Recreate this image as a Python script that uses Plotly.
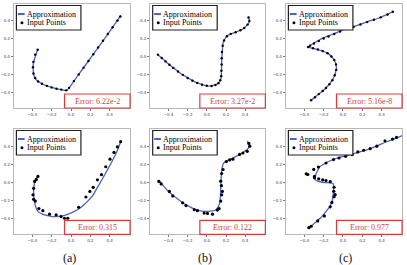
import plotly.graph_objects as go

# ---------------- data ----------------
panel_labels = ["(a)", "(b)", "(c)"]
error_texts = ["Error: 6.22e-2", "Error: 3.27e-2", "Error: 5.16e-8",
               "Error: 0.315", "Error: 0.122", "Error: 0.977"]
tick_vals = [-0.4, -0.2, 0.0, 0.2, 0.4]

# (a) top
a1_approx_x = [-0.342, -0.36, -0.38, -0.393, -0.39, -0.386, -0.37, -0.342, -0.30, -0.256, -0.20, -0.154,
               -0.10, -0.044, -0.02, 0.03, 0.12, 0.22, 0.325, 0.42, 0.513]
a1_approx_y = [0.081, 0.03, -0.04, -0.111, -0.16, -0.204, -0.245, -0.278, -0.305, -0.326, -0.345, -0.359,
               -0.37, -0.378, -0.35, -0.275, -0.14, 0.01, 0.165, 0.31, 0.456]
a1_pts_x = [-0.345, -0.37, -0.39, -0.393, -0.388, -0.37, -0.34, -0.30, -0.25, -0.20, -0.15, -0.10, -0.05,
            -0.02, 0.03, 0.08, 0.13, 0.18, 0.23, 0.28, 0.33, 0.38, 0.43, 0.48, 0.51]
a1_pts_y = [0.075, 0.02, -0.06, -0.12, -0.19, -0.24, -0.28, -0.305, -0.328, -0.345, -0.36, -0.37, -0.378,
            -0.35, -0.275, -0.2, -0.125, -0.05, 0.025, 0.10, 0.175, 0.25, 0.325, 0.40, 0.445]

# (b) top
b1_approx_x = [-0.51, -0.45, -0.39, -0.32, -0.252, -0.18, -0.114, -0.06, -0.01, 0.03, 0.059, 0.095, 0.121,
               0.14, 0.148, 0.152, 0.154, 0.155, 0.16, 0.169, 0.19, 0.214, 0.25, 0.3, 0.35, 0.386, 0.42,
               0.445, 0.44, 0.431]
b1_approx_y = [0.019, -0.035, -0.093, -0.15, -0.204, -0.25, -0.289, -0.31, -0.326, -0.33, -0.326, -0.315,
               -0.296, -0.27, -0.241, -0.18, -0.111, -0.04, 0.037, 0.148, 0.2, 0.23, 0.252, 0.27, 0.292,
               0.315, 0.35, 0.389, 0.42, 0.444]
b1_pts_x = [-0.51, -0.47, -0.43, -0.39, -0.35, -0.30, -0.25, -0.20, -0.15, -0.10, -0.05, 0.0, 0.05, 0.09,
            0.12, 0.14, 0.15, 0.152, 0.154, 0.155, 0.158, 0.165, 0.18, 0.21, 0.25, 0.30, 0.35, 0.39, 0.425,
            0.443, 0.435]
b1_pts_y = [0.02, -0.017, -0.055, -0.093, -0.128, -0.168, -0.205, -0.24, -0.27, -0.295, -0.315, -0.326,
            -0.33, -0.318, -0.298, -0.265, -0.22, -0.16, -0.09, -0.02, 0.05, 0.12, 0.178, 0.225, 0.252,
            0.27, 0.292, 0.318, 0.355, 0.395, 0.435]

# (c) top
c1_approx_x = [-0.329, -0.25, -0.176, -0.108, -0.08, -0.068, -0.075, -0.092, -0.12, -0.159, -0.22, -0.278,
               -0.33, -0.37, -0.35, -0.329, -0.27, -0.21, -0.12, -0.041, 0.06, 0.163, 0.26, 0.366, 0.44,
               0.519]
c1_approx_y = [-0.489, -0.42, -0.352, -0.259, -0.19, -0.13, -0.08, -0.037, 0.0, 0.037, 0.063, 0.081, 0.095,
               0.104, 0.115, 0.13, 0.168, 0.204, 0.242, 0.278, 0.315, 0.352, 0.39, 0.426, 0.46, 0.5]
c1_pts_x = [-0.33, -0.29, -0.25, -0.21, -0.176, -0.14, -0.11, -0.085, -0.07, -0.072, -0.09, -0.12, -0.16,
            -0.21, -0.26, -0.31, -0.36, -0.34, -0.30, -0.25, -0.20, -0.15, -0.09, -0.03, 0.04, 0.11, 0.18,
            0.25, 0.32, 0.39, 0.46, 0.515]
c1_pts_y = [-0.488, -0.455, -0.42, -0.385, -0.352, -0.31, -0.265, -0.21, -0.15, -0.09, -0.04, 0.0, 0.036,
            0.06, 0.077, 0.092, 0.104, 0.12, 0.145, 0.172, 0.2, 0.223, 0.25, 0.278, 0.305, 0.33, 0.357,
            0.383, 0.41, 0.436, 0.468, 0.498]

# (a) bottom
a2_approx_x = [-0.342, -0.37, -0.386, -0.385, -0.376, -0.36, -0.342, -0.31, -0.274, -0.23, -0.188, -0.14,
               -0.085, -0.03, 0.034, 0.09, 0.137, 0.18, 0.222, 0.27, 0.325, 0.38, 0.43, 0.475, 0.513]
a2_approx_y = [0.069, 0.02, -0.073, -0.15, -0.227, -0.285, -0.323, -0.347, -0.362, -0.374, -0.381, -0.38,
               -0.373, -0.355, -0.323, -0.288, -0.246, -0.2, -0.15, -0.06, 0.042, 0.15, 0.25, 0.35, 0.458]
a2_pts_x = [-0.342, -0.359, -0.376, -0.386, -0.393, -0.386, -0.369, -0.332, -0.291, -0.222, -0.154, -0.103,
            -0.068, -0.034, 0.079, 0.154, 0.195, 0.229, 0.273, 0.315, 0.359, 0.403, 0.444, 0.479, 0.513]
a2_pts_y = [0.069, 0.035, 0.012, -0.065, -0.138, -0.188, -0.208, -0.292, -0.315, -0.354, -0.362, -0.381,
            -0.4, -0.4, -0.277, -0.162, -0.1, -0.054, 0.031, 0.088, 0.177, 0.262, 0.338, 0.4, 0.458]

# (b) bottom
b2_approx_x = [-0.51, -0.5, -0.48, -0.45, -0.39, -0.32, -0.252, -0.18, -0.114, -0.05, 0.007, 0.06, 0.093,
               0.12, 0.134, 0.142, 0.145, 0.148, 0.155, 0.165, 0.179, 0.21, 0.248, 0.3, 0.369, 0.42, 0.445,
               0.435, 0.421]
b2_approx_y = [0.02, 0.025, 0.0, -0.04, -0.112, -0.17, -0.227, -0.27, -0.304, -0.32, -0.323, -0.318, -0.304,
               -0.27, -0.227, -0.15, -0.054, 0.03, 0.119, 0.19, 0.223, 0.245, 0.262, 0.29, 0.331, 0.37,
               0.408, 0.44, 0.465]
b2_pts_x = [-0.5, -0.476, -0.39, -0.355, -0.252, -0.217, -0.131, -0.097, -0.028, 0.007, 0.059, 0.11, 0.128,
            0.145, 0.155, 0.162, 0.152, 0.145, 0.155, 0.169, 0.203, 0.238, 0.272, 0.341, 0.376, 0.421,
            0.448, 0.438]
b2_pts_y = [0.012, -0.015, -0.1, -0.15, -0.227, -0.258, -0.304, -0.315, -0.342, -0.346, -0.354, -0.308,
            -0.292, -0.208, -0.138, -0.1, -0.035, 0.015, 0.1, 0.146, 0.235, 0.254, 0.262, 0.315, 0.331,
            0.35, 0.408, 0.438]

# (c) bottom
c2_approx_x = [-0.346, -0.29, -0.227, -0.18, -0.142, -0.12, -0.108, -0.1, -0.098, -0.1, -0.108, -0.14,
               -0.193, -0.23, -0.261, -0.285, -0.288, -0.278, -0.26, -0.244, -0.2, -0.159, -0.058, 0.03,
               0.112, 0.2, 0.281, 0.37, 0.451, 0.53, 0.62]
c2_approx_y = [-0.506, -0.45, -0.392, -0.33, -0.279, -0.235, -0.185, -0.11, -0.034, -0.015, -0.008, -0.003,
               0.0, 0.006, 0.015, 0.03, 0.042, 0.098, 0.14, 0.174, 0.205, 0.23, 0.275, 0.3, 0.325, 0.352,
               0.381, 0.42, 0.457, 0.49, 0.53]
c2_pts_x = [-0.353, -0.329, -0.261, -0.193, -0.132, -0.115, -0.092, -0.081, -0.095, -0.092, -0.132, -0.176,
            -0.21, -0.251, -0.295, -0.295, -0.38, -0.363, -0.302, -0.254, -0.176, -0.098, -0.041, 0.027,
            0.095, 0.153, 0.214, 0.281, 0.349, 0.434, 0.512, 0.553]
c2_pts_y = [-0.506, -0.49, -0.43, -0.374, -0.272, -0.223, -0.158, -0.136, -0.098, -0.053, 0.011, 0.023,
            0.03, 0.042, 0.053, 0.068, 0.098, 0.09, 0.147, 0.174, 0.219, 0.257, 0.275, 0.294, 0.313, 0.343,
            0.362, 0.38, 0.407, 0.468, 0.487, 0.506]

series = [
    (a1_approx_x, a1_approx_y, a1_pts_x, a1_pts_y),
    (b1_approx_x, b1_approx_y, b1_pts_x, b1_pts_y),
    (c1_approx_x, c1_approx_y, c1_pts_x, c1_pts_y),
    (a2_approx_x, a2_approx_y, a2_pts_x, a2_pts_y),
    (b2_approx_x, b2_approx_y, b2_pts_x, b2_pts_y),
    (c2_approx_x, c2_approx_y, c2_pts_x, c2_pts_y),
]

# ---------------- layout ----------------
W, H = 407, 265
col_px = [(11, 128), (148.3, 264.3), (285, 402)]
row_px = [(4, 108), (129, 234.3)]
x_range = [-0.59, 0.61]
y_ranges = [[-0.575, 0.585], [-0.58, 0.60]]

BLUE = "#4a62d0"
RED = "#dd3b3b"
SERIF = "Liberation Serif"

fig = go.Figure()
shapes = []
annotations = []
layout_axes = {}

for i, (ax_x, ax_y, px_x, px_y) in enumerate(series):
    r, c = divmod(i, 3)
    n = "" if i == 0 else str(i + 1)
    xa, ya = "x" + n, "y" + n
    x0, x1 = col_px[c]
    y0, y1 = row_px[r]
    pw, ph = x1 - x0, y1 - y0
    msize = 2.4 if r == 0 else 3.2

    fig.add_trace(go.Scatter(x=ax_x, y=ax_y, mode="lines", xaxis=xa, yaxis=ya,
                             line=dict(color=BLUE, width=1.3, shape="spline", smoothing=0.5),
                             showlegend=False, cliponaxis=True))
    fig.add_trace(go.Scatter(x=px_x, y=px_y, mode="markers", xaxis=xa, yaxis=ya,
                             marker=dict(color="black", size=msize, line=dict(width=0)),
                             showlegend=False))

    axis_common = dict(showline=True, mirror=True, linecolor="#b8b8b8", linewidth=1,
                       showgrid=False, zeroline=False, ticks="outside", ticklen=2,
                       tickwidth=0.6, tickcolor="#777", tickvals=tick_vals, tickformat=".1f",
                       tickfont=dict(family="DejaVu Sans", size=4, color="#444"))
    layout_axes["xaxis" + n] = dict(axis_common, domain=[x0 / W, x1 / W], range=x_range,
                                    anchor=ya)
    layout_axes["yaxis" + n] = dict(axis_common, domain=[1 - y1 / H, 1 - y0 / H],
                                    range=y_ranges[r], anchor=xa)

    dx = xa + " domain"
    dy = ya + " domain"

    def fx(p):
        return p / pw

    def fy(p):
        return 1 - p / ph

    # legend box
    shapes.append(dict(type="rect", xref=dx, yref=dy, x0=fx(2.5), x1=fx(67.5),
                       y0=fy(26), y1=fy(1.5), line=dict(color="#222", width=1.2),
                       fillcolor="white", layer="above"))
    shapes.append(dict(type="line", xref=dx, yref=dy, x0=fx(4), x1=fx(10.8),
                       y0=fy(10), y1=fy(10), line=dict(color=BLUE, width=2), layer="above"))
    shapes.append(dict(type="circle", xref=dx, yref=dy, x0=fx(6.6), x1=fx(9.6),
                       y0=fy(20.2), y1=fy(17.2), line=dict(color="black", width=0),
                       fillcolor="black", layer="above"))
    annotations.append(dict(xref=dx, yref=dy, x=fx(10.8), y=fy(10), text="Approximation",
                            showarrow=False, xanchor="left", yanchor="middle",
                            font=dict(family=SERIF, size=8, color="black")))
    annotations.append(dict(xref=dx, yref=dy, x=fx(11.3), y=fy(18.8), text="Input Points",
                            showarrow=False, xanchor="left", yanchor="middle",
                            font=dict(family=SERIF, size=8, color="black")))
    # error box
    shapes.append(dict(type="rect", xref=dx, yref=dy, x0=fx(pw - 66), x1=1,
                       y0=0, y1=14 / ph, line=dict(color=RED, width=1.2),
                       fillcolor="white", layer="above"))
    annotations.append(dict(xref=dx, yref=dy, x=fx(pw - 33), y=7 / ph, text=error_texts[i],
                            showarrow=False, xanchor="center", yanchor="middle",
                            font=dict(family=SERIF, size=8, color=RED)))

label_x = [67, 204, 345]
for c, lab in enumerate(panel_labels):
    annotations.append(dict(xref="paper", yref="paper", x=label_x[c] / W, y=1 - 258 / H,
                            text=lab, showarrow=False, xanchor="center", yanchor="middle",
                            font=dict(family=SERIF, size=12, color="#111", weight="normal")))

fig.update_layout(width=W, height=H, margin=dict(l=0, r=0, t=0, b=0),
                  paper_bgcolor="white", plot_bgcolor="white", showlegend=False,
                  shapes=shapes, annotations=annotations, **layout_axes)

fig.write_html("out.html", config={"displayModeBar": False},
               post_script="document.body.style.margin='0';document.body.style.overflow='hidden';")
